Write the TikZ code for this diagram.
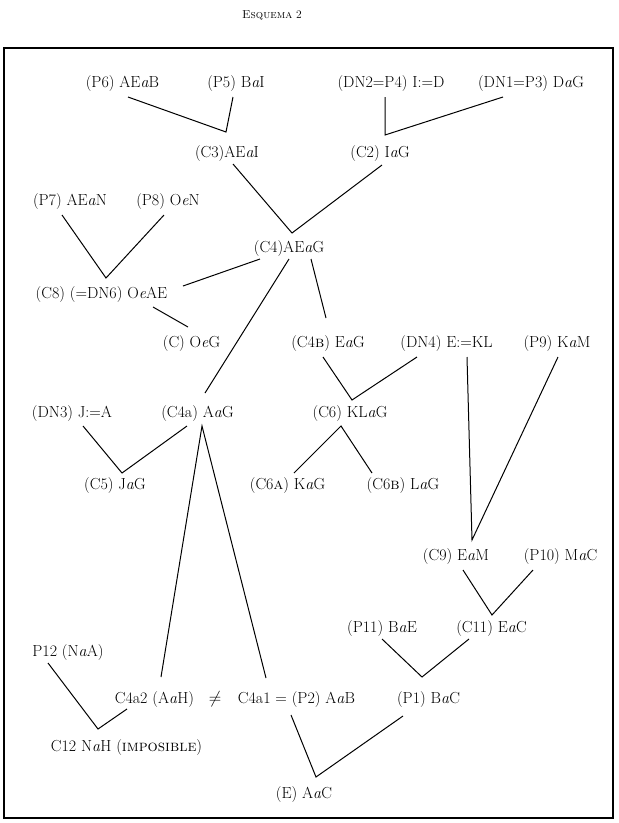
\documentclass[tikz,border=0pt]{standalone}
\usepackage{fontspec}
\usetikzlibrary{calc}

\begin{document}
\begin{tikzpicture}[x=1pt, y=-1pt,
        lbl/.style={font=\fontsize{16}{19}\selectfont, inner sep=0pt,
            text height=12pt, text depth=2pt},
        link/.style={line width=1pt}]
            \useasboundingbox (0, 0) rectangle (619, 823);
            \node[font=\fontsize{11.5}{14}\selectfont] (title) at (272, 15) {\textsc{Esquema} 2};
            \draw[line width=2pt] (4, 48) rectangle (613, 818);
            % premisas de arriba
            \node[lbl] (P6) at (122.5, 82) {(P6) AE\textit{a}B};
            \node[lbl] (P5) at (236, 82) {(P5) B\textit{a}I};
            \node[lbl] (DN2) at (391, 82) {(DN2=P4) I:=D};
            \node[lbl] (DN1) at (531, 82) {(DN1=P3) D\textit{a}G};
            \node[lbl] (C3) at (227, 152) {(C3)AE\textit{a}I};
            \node[lbl] (C2) at (380, 152) {(C2) I\textit{a}G};
            \node[lbl] (P7) at (70, 200) {(P7) AE\textit{a}N};
            \node[lbl] (P8) at (168, 200) {(P8) O\textit{e}N};
            \node[lbl] (C4) at (289, 247) {(C4)AE\textit{a}G};
            \node[lbl] (C8) at (101.5, 293) {(C8) (=DN6) O\textit{e}AE};
            \node[lbl] (C) at (191.5, 342) {(C) O\textit{e}G};
            \node[lbl] (C4B) at (328, 342) {(C4\textsc{b}) E\textit{a}G};
            \node[lbl] (DN4) at (446.5, 342) {(DN4) E:=KL};
            \node[lbl] (P9) at (557, 342) {(P9) K\textit{a}M};
            \node[lbl] (DN3) at (72, 412) {(DN3) J:=A};
            \node[lbl] (C4a) at (197.5, 412) {(C4a) A\textit{a}G};
            \node[lbl] (C6) at (350, 412) {(C6) KL\textit{a}G};
            \node[lbl] (C5) at (115, 484) {(C5) J\textit{a}G};
            \node[lbl] (C6A) at (287.5, 484) {(C6\textsc{a}) K\textit{a}G};
            \node[lbl] (C6B) at (403, 484) {(C6\textsc{b}) L\textit{a}G};
            \node[lbl] (C9) at (456, 555) {(C9) E\textit{a}M};
            \node[lbl] (P10) at (560.5, 555) {(P10) M\textit{a}C};
            \node[lbl] (P11) at (382, 627) {(P11) B\textit{a}E};
            \node[lbl] (C11) at (491.5, 627) {(C11) E\textit{a}C};
            \node[lbl] (P12) at (68, 651) {P12 (N\textit{a}A)};
            \node[lbl] (C4a2) at (154.5, 698) {C4a2 (A\textit{a}H)};
            \node[lbl] (neq) at (215, 698) {$\neq$};
            \node[lbl] (C4a1) at (296.5, 698) {C4a1 = (P2) A\textit{a}B};
            \node[lbl] (P1) at (428.5, 698) {(P1) B\textit{a}C};
            \node[lbl] (C12) at (126.5, 746) {C12 N\textit{a}H (\textsc{imposible})};
            \node[lbl] (E) at (304, 793) {(E) A\textit{a}C};
            % vertices
            \coordinate (v3) at ($(C3)+(-1, -20)$);
            \coordinate (v2) at ($(C2)+(5, -17)$);
            \coordinate (v4) at ($(C4)+(3, -14)$);
            \coordinate (v8) at ($(C8)+(4.5, -15)$);
            \coordinate (v6) at ($(C6)+(2, -12)$);
            \coordinate (v5) at ($(C5)+(7, -11)$);
            \coordinate (v9) at ($(C9)+(16, -15)$);
            \coordinate (v11) at ($(C11)+(0.5, -12)$);
            \coordinate (v1) at ($(P1)+(-6.5, -21)$);
            \coordinate (v12) at ($(C12)+(-28.5, -17)$);
            \coordinate (vE) at ($(E)+(12, -16)$);
            % lineas
            \draw[link] ($(P6)+(5.5, 15)$) -- (v3) -- ($(P5)+(-3, 15)$);
            \draw[link] ($(DN2)+(-6, 15)$) -- (v2) -- ($(DN1)+(-28, 15)$);
            \draw[link] ($(C3)+(6, 12)$) -- (v4) -- ($(C2)+(2, 13)$);
            \draw[link] ($(P7)+(-8, 15)$) -- (v8) -- ($(P8)+(-4, 15)$);
            \draw[link] ($(C4)+(-29, 12)$) -- ($(C8)+(81.5, -7)$);
            \draw[link] ($(C8)+(51.5, 14)$) -- ($(C)+(-3.5, -15)$);
            \draw[link] ($(C4)+(22, 12)$) -- ($(C4B)+(-2, -24)$);
            \draw[link] ($(C4)+(0, 12)$) -- ($(C4a)+(7.5, -19)$);
            \draw[link] ($(C4B)+(-5, 15)$) -- (v6) -- ($(DN4)+(-29.5, 15)$);
            \draw[link] ($(C6A)+(6.5, -11)$) -- ($(C6)+(-9, 14)$) -- ($(C6B)+(-31, -11)$);
            \draw[link] ($(DN3)+(11, 14)$) -- (v5) -- ($(C4a)+(-10.5, 14)$);
            \draw[link] ($(C4a2)+(6.5, -21)$) -- ($(C4a)+(4.5, 14)$) -- ($(C4a1)+(-30.5, -20)$);
            \draw[link] ($(DN4)+(20.5, 15)$) -- (v9) -- ($(P9)+(1, 15)$);
            \draw[link] ($(C9)+(7, 15)$) -- (v11) -- ($(P10)+(-27.5, 15)$);
            \draw[link] ($(P11)+(0, 12)$) -- (v1) -- ($(C11)+(-22.5, 12)$);
            \draw[link] ($(P12)+(-20, 12)$) -- (v12) -- ($(C4a2)+(-27.5, 11)$);
            \draw[link] ($(C4a1)+(-5.5, 17)$) -- (vE) -- ($(P1)+(-25.5, 18)$);
        \end{tikzpicture}
\end{document}
